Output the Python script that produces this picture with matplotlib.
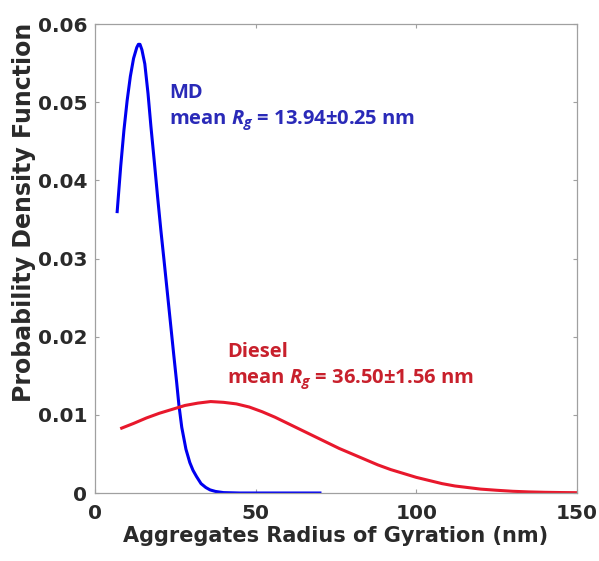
import matplotlib
matplotlib.use('Agg')
import matplotlib.pyplot as plt

# values
md_x = [6.9, 8, 9, 10, 11, 12, 13, 13.5, 14, 14.6, 15.5, 16.5, 17.4, 18.5,
        19.5, 20.5, 21.5, 22.5, 23.5, 24.5, 25.4, 26.1, 27, 28.3, 29.5,
        30.5, 31.6, 33, 34.5, 35.8, 37.5, 40, 45, 50, 60, 70]
md_y = [0.0360, 0.0418, 0.0464, 0.0502, 0.0533, 0.0556, 0.0570, 0.0574,
        0.0574, 0.0567, 0.0549, 0.0511, 0.0469, 0.0422, 0.0378, 0.0336,
        0.0297, 0.0257, 0.0217, 0.0177, 0.0142, 0.0113, 0.0084, 0.0056,
        0.0039, 0.0029, 0.0021, 0.0012, 0.0007, 0.0004, 0.0002, 0.00005,
        0.0, 0.0, 0.0, 0.0]

diesel_x = [8.3, 12, 16, 20, 24, 28, 32, 36, 40, 44, 48, 52, 56, 60, 64, 68,
            72, 76, 80, 84, 88, 92, 96, 100, 104, 108, 112, 116, 120, 125,
            130, 135, 140, 145, 150]
diesel_y = [0.0083, 0.0089, 0.0096, 0.0102, 0.0107, 0.0112, 0.0115, 0.0117,
            0.0116, 0.0114, 0.0110, 0.0104, 0.0097, 0.0089, 0.0081, 0.0073,
            0.0065, 0.0057, 0.0050, 0.0043, 0.0036, 0.0030, 0.0025, 0.0020,
            0.0016, 0.0012, 0.0009, 0.0007, 0.0005, 0.00035, 0.00022,
            0.00014, 0.00009, 0.00006, 0.00004]

x_ticks = [0, 50, 100, 150]
y_ticks = [0, 0.01, 0.02, 0.03, 0.04, 0.05, 0.06]
y_ticklabels = ['0', '0.01', '0.02', '0.03', '0.04', '0.05', '0.06']

plt.rcParams['mathtext.fontset'] = 'custom'
plt.rcParams['mathtext.it'] = 'Open Sans:italic:bold'
plt.rcParams['mathtext.rm'] = 'Open Sans:bold'

fig = plt.figure(figsize=(5.99, 5.61), dpi=100)
ax = fig.add_axes([0.1586, 0.1212, 0.8047, 0.836])

ax.plot(md_x, md_y, color='#0000f0', lw=2.2)
ax.plot(diesel_x, diesel_y, color='#e8182c', lw=2.2)

ax.set_xlim(0, 150)
ax.set_ylim(0, 0.06)
ax.set_xticks(x_ticks)
ax.set_xticklabels([str(t) for t in x_ticks])
ax.set_yticks(y_ticks)
ax.set_yticklabels(y_ticklabels)

for s in ax.spines.values():
    s.set_color('#a0a0a0')
    s.set_linewidth(0.9)
ax.tick_params(direction='in', length=3, color='#a0a0a0', top=True,
               right=True, labelsize=14.5)
ax.tick_params(axis='x', pad=8)
ax.tick_params(axis='y', pad=5.5)
for lab in ax.get_xticklabels() + ax.get_yticklabels():
    lab.set_fontfamily('DejaVu Sans')
    lab.set_fontweight('bold')
    lab.set_color('#2a2a2a')

ax.set_xlabel('Aggregates Radius of Gyration (nm)', fontsize=15,
              fontfamily='DejaVu Sans', fontweight='bold',
              color='#2a2a2a', labelpad=2)
ax.set_ylabel('Probability Density Function', fontsize=17,
              fontfamily='DejaVu Sans', fontweight='bold',
              color='#2a2a2a')
ax.yaxis.set_label_coords(-0.122, 0.598)

ax.text(23.0, 0.0505, 'MD', color='#2a2ab8', fontsize=14.5,
        fontfamily='Open Sans', fontweight='bold', va='baseline')
ax.text(23.0, 0.0472, r'mean $R_g$ = 13.94±0.25 nm', color='#2a2ab8',
        fontsize=14.5, fontfamily='Open Sans', fontweight='bold',
        va='baseline')
ax.text(41.1, 0.0174, 'Diesel', color='#c8202c', fontsize=14.5,
        fontfamily='Open Sans', fontweight='bold', va='baseline')
ax.text(41.1, 0.0141, r'mean $R_g$ = 36.50±1.56 nm', color='#c8202c',
        fontsize=14.5, fontfamily='Open Sans', fontweight='bold',
        va='baseline')

plt.savefig('out.png', dpi=100)
